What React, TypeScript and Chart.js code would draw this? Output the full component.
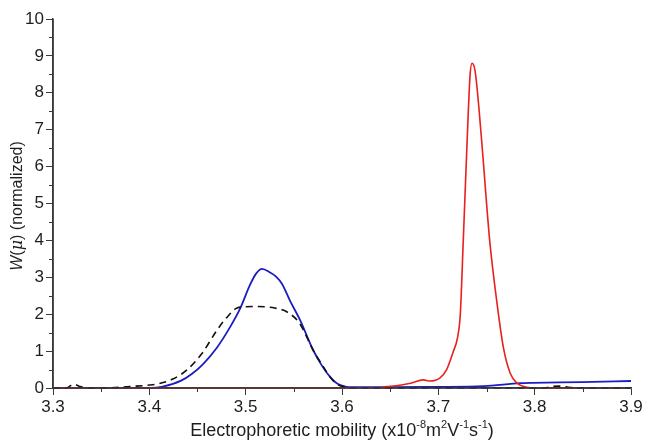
import React, { useEffect, useRef } from "react";
import { Chart, registerables } from "chart.js";

Chart.register(...registerables);

// Electrophoretic mobility (x1e-8 m^2 V^-1 s^-1) and normalized W(mu)
const redX = [3.30, 3.35, 3.40, 3.50, 3.55, 3.60, 3.6356, 3.6457, 3.6559, 3.6711, 3.6843, 3.6914, 3.7015, 3.7086, 3.7157, 3.7198, 3.7228, 3.7259, 3.7299, 3.733, 3.735, 3.7381, 3.7421, 3.7462, 3.7533, 3.7604, 3.7675, 3.7746, 3.7817, 3.7918, 3.80, 3.85, 3.90];
const redY = [0, 0, 0, 0, 0, 0, 0, 0.04, 0.06, 0.13, 0.22, 0.19, 0.27, 0.5, 1.0, 1.35, 2.0, 4.0, 6.7, 8.5, 8.8, 8.6, 7.6, 6.3, 4.0, 2.4, 1.1, 0.4, 0.13, 0.02, 0, 0, 0];

const blueX = [3.30, 3.392, 3.402, 3.414, 3.433, 3.444, 3.4558, 3.4703, 3.4838, 3.4942, 3.5046, 3.5108, 3.517, 3.5253, 3.5316, 3.5378, 3.5461, 3.5565, 3.570, 3.5793, 3.5876, 3.5949, 3.6032, 3.6105, 3.62, 3.65, 3.6965, 3.747, 3.785, 3.798, 3.849, 3.90];
const blueY = [0, 0, 0, 0.04, 0.2, 0.38, 0.65, 1.1, 1.65, 2.15, 2.8, 3.1, 3.23, 3.13, 3.02, 2.82, 2.36, 1.84, 1.03, 0.6, 0.3, 0.12, 0.04, 0.02, 0.02, 0.02, 0.03, 0.05, 0.13, 0.14, 0.16, 0.19];

const dashX = [3.30, 3.314, 3.318, 3.322, 3.327, 3.335, 3.35, 3.37, 3.38, 3.40, 3.41, 3.425, 3.439, 3.455, 3.4703, 3.48, 3.4911, 3.50, 3.51, 3.52, 3.53, 3.543, 3.556, 3.570, 3.58, 3.5876, 3.595, 3.605, 3.615, 3.81, 3.818, 3.826, 3.835, 3.845, 3.90];
const dashY = [0, 0, 0.06, 0.1, 0.05, 0.01, 0, 0.02, 0.04, 0.08, 0.12, 0.25, 0.49, 0.95, 1.57, 1.9, 2.17, 2.2, 2.21, 2.2, 2.17, 2.06, 1.75, 1.03, 0.6, 0.3, 0.1, 0.02, 0, 0, 0.04, 0.05, 0.02, 0, 0];

const xTickMin = 3.3;
const xTickMax = 3.9;
const xTickStep = 0.1;
const yTickMin = 0;
const yTickMax = 10;
const yTickStep = 1;

const yTitleParts = [
  { t: "W", italic: true, font: "Liberation Sans" },
  { t: "(", italic: false, font: "Liberation Sans" },
  { t: "μ", italic: true, font: "DejaVu Serif" },
  { t: ")", italic: false, font: "Liberation Sans" },
  { t: " (normalized)", italic: false, font: "Liberation Sans" },
];
const xTitleParts = [
  { t: "Electrophoretic mobility (x10", sup: false },
  { t: "-8", sup: true },
  { t: "m", sup: false },
  { t: "2", sup: true },
  { t: "V", sup: false },
  { t: "-1", sup: true },
  { t: "s", sup: false },
  { t: "-1", sup: true },
  { t: ")", sup: false },
];

const pts = (xs: number[], ys: number[]) => xs.map((x, i) => ({ x, y: ys[i] }));

const axisColor = "#3a3a3a";
const textColor = "#1e1e1e";

const decorPlugin = {
  id: "decor",
  afterDatasetsDraw(chart: any) {
    const ctx = chart.ctx;
    const ca = chart.chartArea;
    ctx.save();
    ctx.strokeStyle = axisColor;
    ctx.lineWidth = 1.5;
    ctx.beginPath();
    ctx.moveTo(ca.left, ca.top);
    ctx.lineTo(ca.left, ca.bottom);
    ctx.lineTo(ca.right, ca.bottom);
    ctx.stroke();
    ctx.restore();
  },
  afterDraw(chart: any) {
    const ctx = chart.ctx;
    const xs = chart.scales.x;
    const ys = chart.scales.y;
    const ca = chart.chartArea;
    ctx.save();
    ctx.strokeStyle = axisColor;
    ctx.lineWidth = 1;
    // minor ticks
    for (let v = yTickMin + yTickStep / 2; v < yTickMax; v += yTickStep) {
      const py = Math.round(ys.getPixelForValue(v)) + 0.5;
      ctx.beginPath();
      ctx.moveTo(ca.left - 4, py);
      ctx.lineTo(ca.left, py);
      ctx.stroke();
    }
    for (let v = xTickMin + xTickStep / 2; v < xTickMax; v += xTickStep) {
      const px = Math.round(xs.getPixelForValue(v)) + 0.5;
      ctx.beginPath();
      ctx.moveTo(px, ca.bottom);
      ctx.lineTo(px, ca.bottom + 4);
      ctx.stroke();
    }
    // y title
    ctx.fillStyle = textColor;
    ctx.textBaseline = "middle";
    const size = 16;
    const fontOf = (p: any) => `${p.italic ? "italic " : ""}${size}px "${p.font}"`;
    let total = 0;
    yTitleParts.forEach((p) => {
      ctx.font = fontOf(p);
      total += ctx.measureText(p.t).width;
    });
    ctx.translate(18, 206);
    ctx.rotate(-Math.PI / 2);
    let x = -total / 2;
    yTitleParts.forEach((p) => {
      ctx.font = fontOf(p);
      ctx.textAlign = "left";
      ctx.fillText(p.t, x, 0);
      x += ctx.measureText(p.t).width;
    });
    ctx.setTransform(1, 0, 0, 1, 0, 0);
    // x title
    const big = `18px "Liberation Sans"`;
    const small = `11px "Liberation Sans"`;
    let tw = 0;
    xTitleParts.forEach((p) => {
      ctx.font = p.sup ? small : big;
      tw += ctx.measureText(p.t).width;
    });
    let cx = (ca.left + ca.right) / 2 - tw / 2;
    const base = 436;
    ctx.textBaseline = "alphabetic";
    ctx.textAlign = "left";
    xTitleParts.forEach((p) => {
      ctx.font = p.sup ? small : big;
      ctx.fillText(p.t, cx, p.sup ? base - 8 : base);
      cx += ctx.measureText(p.t).width;
    });
    ctx.restore();
  },
};

export default function App() {
  const ref = useRef<HTMLCanvasElement>(null);
  useEffect(() => {
    if (!ref.current) return;
    const chart = new Chart(ref.current, {
      type: "line",
      data: {
        datasets: [
          {
            label: "blue",
            data: pts(blueX, blueY),
            borderColor: "#1c1cc4",
            borderWidth: 1.8,
            pointRadius: 0,
            cubicInterpolationMode: "monotone",
            clip: 3,
            order: 3,
          } as any,
          {
            label: "red",
            data: pts(redX, redY),
            borderColor: "#e8201e",
            borderWidth: 1.6,
            pointRadius: 0,
            cubicInterpolationMode: "monotone",
            clip: 3,
            order: 2,
          } as any,
          {
            label: "dashed",
            data: pts(dashX, dashY),
            borderColor: "#111",
            borderWidth: 1.6,
            borderDash: [7, 5],
            pointRadius: 0,
            cubicInterpolationMode: "monotone",
            clip: 3,
            order: 1,
          } as any,
        ],
      },
      options: {
        animation: false,
        responsive: false,
        maintainAspectRatio: false,
        layout: { padding: { top: 19, right: 14, bottom: 0, left: 0 } },
        plugins: { legend: { display: false }, tooltip: { enabled: false }, title: { display: false } },
        scales: {
          x: {
            type: "linear",
            min: xTickMin,
            max: xTickMax,
            afterFit: (s: any) => { s.height = 55; },
            afterBuildTicks: (s: any) => {
              const t = [];
              for (let v = xTickMin; v <= xTickMax + 1e-9; v += xTickStep) t.push({ value: +v.toFixed(1) });
              s.ticks = t;
            },
            ticks: {
              color: textColor,
              font: { family: "Liberation Sans", size: 17 },
              padding: 2,
              maxRotation: 0,
              callback: (v: any) => Number(v).toFixed(1),
            },
            grid: { drawOnChartArea: false, drawTicks: true, tickLength: 7, tickColor: axisColor },
            border: { display: true, color: axisColor, width: 1.5 },
          },
          y: {
            type: "linear",
            min: yTickMin,
            max: yTickMax,
            afterFit: (s: any) => { s.width = 53; },
            ticks: {
              stepSize: yTickStep,
              color: textColor,
              font: { family: "Liberation Sans", size: 17 },
              padding: 2,
            },
            grid: { drawOnChartArea: false, drawTicks: true, tickLength: 7, tickColor: axisColor },
            border: { display: true, color: axisColor, width: 1.5 },
          },
        },
      },
      plugins: [decorPlugin],
    });
    return () => chart.destroy();
  }, []);
  return (
    <div style={{ position: "fixed", left: 0, top: 0, width: 645, height: 443, background: "#fff" }}>
      <canvas ref={ref} width={645} height={443} style={{ display: "block", width: 645, height: 443 }} />
    </div>
  );
}
